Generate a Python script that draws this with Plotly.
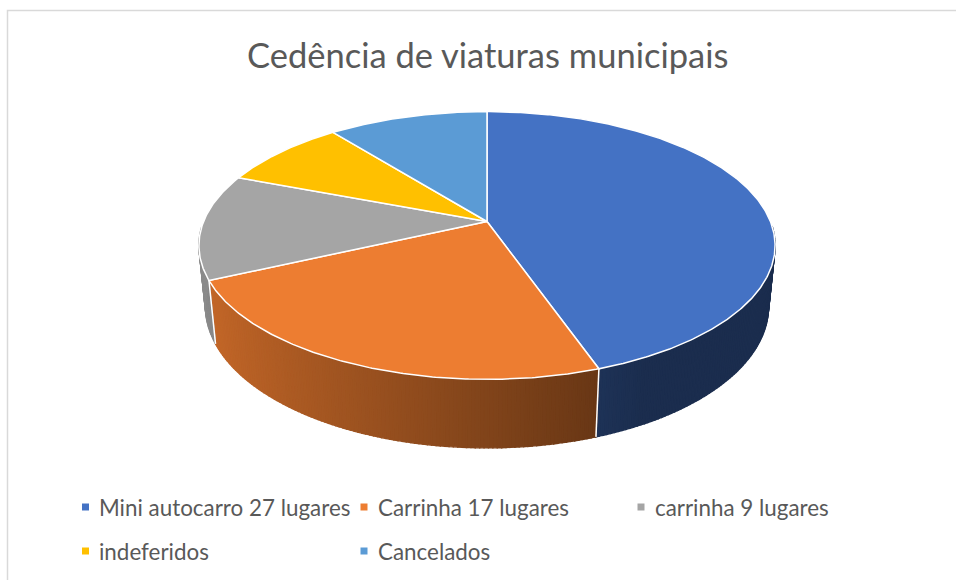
import numpy as np
import plotly.graph_objects as go

# ---------------- data ----------------
categories = ["Mini autocarro 27 lugares", "Carrinha 17 lugares", "carrinha 9 lugares",
              "indeferidos", "Cancelados"]
values = [21, 11, 6, 4, 5]
colors = ["#4472C4", "#ED7D31", "#A5A5A5", "#FFC000", "#5B9BD5"]
chart_title = "Cedência de viaturas municipais"

# ---------------- geometry (3D pie, perspective) ----------------
W, H = 956, 580
CX, CY = 487.0, 221.5
F = 1408.0
S = 0.2013
HH = 0.049
ALPHA = np.radians(27.2)
sa, ca = np.sin(ALPHA), np.cos(ALPHA)
FONT = "Lato"
TXT = "#595959"


def project(theta_deg, level=0.0, r=S):
    t = np.radians(np.asarray(theta_deg, dtype=float))
    X = r * np.sin(t)
    Z = r * np.cos(t)
    Y = -HH * level
    d = 1 + Z * ca - Y * sa
    x = CX + F * X / d
    y = CY - F * (Y * ca + Z * sa) / d
    return x, y


def hex_rgb(h):
    h = h.lstrip("#")
    return [int(h[i:i + 2], 16) for i in (0, 2, 4)]


def shade(h, f):
    r, g, b = hex_rgb(h)
    return "rgb(%d,%d,%d)" % (min(255, r * f), min(255, g * f), min(255, b * f))


total = float(sum(values))
bounds = np.concatenate([[0.0], np.cumsum(values) / total * 360.0])


def slice_of(theta):
    for i in range(len(values)):
        if bounds[i] <= theta < bounds[i + 1]:
            return i
    return len(values) - 1


fig = go.Figure()

# side walls (front half), drawn as thin shaded strips
edges = set(np.round(np.arange(92, 268.01, 0.75), 4))
for b in bounds:
    if 92 < b < 268:
        edges.add(float(b))
edges = sorted(edges)
for a0, a1 in zip(edges[:-1], edges[1:]):
    mid = 0.5 * (a0 + a1)
    i = slice_of(mid)
    f = float(np.clip(0.544 - 0.3045 * np.sin(np.radians(mid)), 0.40, 0.88))
    col = shade(colors[i], f)
    tx0, ty0 = project(a0, 0)
    tx1, ty1 = project(a1, 0)
    bx0, by0 = project(a0, 1)
    bx1, by1 = project(a1, 1)
    fig.add_trace(go.Scatter(
        x=[tx0, tx1, bx1, bx0, tx0], y=[ty0, ty1, by1, by0, ty0],
        mode="lines", fill="toself", fillcolor=col,
        line=dict(color=col, width=1.4), hoverinfo="skip", showlegend=False))

# white separators on the side wall at slice boundaries
for b in bounds:
    if 100 < b < 260:
        tx, ty = project(b, 0)
        bx, by = project(b, 1)
        fig.add_trace(go.Scatter(x=[tx, bx], y=[ty, by], mode="lines",
                                 line=dict(color="white", width=1.5),
                                 hoverinfo="skip", showlegend=False))

# top faces
for i in range(len(values)):
    th = np.linspace(bounds[i], bounds[i + 1], max(3, int((bounds[i + 1] - bounds[i]) * 2)))
    rx, ry = project(th, 0)
    xs = np.concatenate([[CX], rx, [CX]])
    ys = np.concatenate([[CY], ry, [CY]])
    fig.add_trace(go.Scatter(x=xs, y=ys, mode="lines", fill="toself",
                             fillcolor=colors[i], line=dict(color="white", width=1.5),
                             hoverinfo="skip", showlegend=False))

# ---------------- legend (manual) ----------------
leg_x = [85.5, 364, 641, 85.5, 364]
leg_y = [507, 507, 507, 551, 551]
fig.add_trace(go.Scatter(x=leg_x, y=leg_y, mode="markers",
                         marker=dict(symbol="square", size=7, color=colors,
                                     line=dict(width=0)),
                         hoverinfo="skip", showlegend=False))
for name, x, y in zip(categories, leg_x, leg_y):
    fig.add_annotation(x=x + 11.5, y=y, text=name, showarrow=False, xanchor="left",
                       yanchor="middle", font=dict(family=FONT, size=22.4, color=TXT))

fig.add_annotation(x=487.5, y=54, text=chart_title, showarrow=False, xanchor="center",
                   yanchor="middle", font=dict(family=FONT, size=34.5, color=TXT))

fig.add_shape(type="rect", x0=7.5, y0=10.5, x1=W + 10, y1=H + 10,
              line=dict(color="#D9D9D9", width=1.5), fillcolor="rgba(0,0,0,0)")

fig.update_layout(
    width=W, height=H, margin=dict(l=0, r=0, t=0, b=0),
    paper_bgcolor="white", plot_bgcolor="white",
    xaxis=dict(range=[0, W], visible=False, fixedrange=True),
    yaxis=dict(range=[H, 0], visible=False, fixedrange=True),
    showlegend=False,
)

fig.write_html(
    "out.html",
    config={"displayModeBar": False, "responsive": False},
    post_script="document.body.style.margin='0';document.body.style.overflow='hidden';",
)
